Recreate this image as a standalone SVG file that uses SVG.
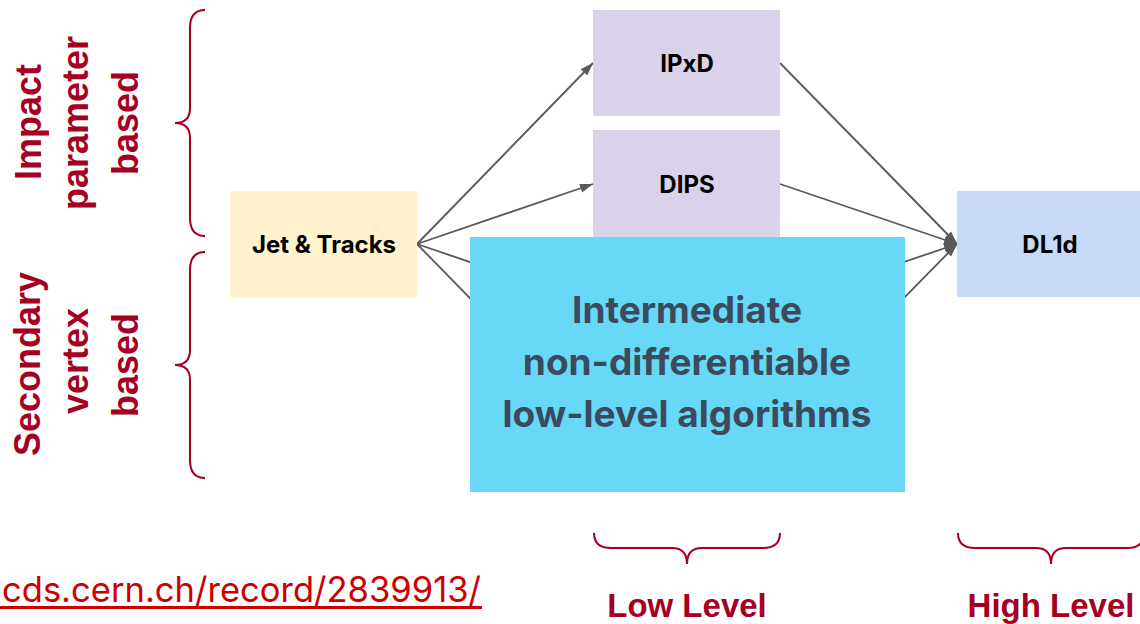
<svg xmlns="http://www.w3.org/2000/svg" width="1140" height="624" viewBox="0 0 1140 624">
  <style>
    .lbl { font-family: "Liberation Sans", Arial, sans-serif; font-weight: bold; fill: #a50021; }
    .box-t { font-family: Inter, "Liberation Sans", sans-serif; font-weight: bold; fill: #000; font-size: 24px; text-anchor: middle; }
    .big-t { font-family: Inter, "Liberation Sans", sans-serif; font-weight: bold; fill: #3b4a5c; font-size: 37px; text-anchor: middle; }
    .brace { fill: none; stroke: #a50021; stroke-width: 2; }
    .conn { stroke: #595959; stroke-width: 1.8; fill: none; }
  </style>
  <defs>
    <marker id="arr" markerUnits="userSpaceOnUse" markerWidth="14" markerHeight="10" refX="13" refY="5" orient="auto">
      <path d="M0,0.5 L13,5 L0,9.5 z" fill="#595959"/>
    </marker>
  </defs>
  <rect width="1140" height="624" fill="#ffffff"/>

  <g id="connectors">
    <line class="conn" x1="417" y1="244" x2="593" y2="63" marker-end="url(#arr)"/>
    <line class="conn" x1="417" y1="244" x2="593" y2="184" marker-end="url(#arr)"/>
    <line class="conn" x1="417" y1="244" x2="593" y2="304"/>
    <line class="conn" x1="417" y1="244" x2="593" y2="424"/>
    <line class="conn" x1="780" y1="63" x2="957" y2="244" marker-end="url(#arr)"/>
    <line class="conn" x1="780" y1="184" x2="957" y2="244" marker-end="url(#arr)"/>
    <line class="conn" x1="780" y1="304" x2="957" y2="244" marker-end="url(#arr)"/>
    <line class="conn" x1="780" y1="424" x2="957" y2="244" marker-end="url(#arr)"/>
  </g>

  <g id="jet-tracks">
    <rect x="230" y="191" width="187" height="106" fill="#fff2cc"/>
    <text class="box-t" x="324" y="253">Jet &amp; Tracks</text>
  </g>
  <g id="ipxd">
    <rect x="593" y="10" width="187" height="106" fill="#d9d2e9"/>
    <text class="box-t" x="687" y="72">IPxD</text>
  </g>
  <g id="dips">
    <rect x="593" y="130" width="187" height="107" fill="#d9d2e9"/>
    <text class="box-t" x="687" y="193">DIPS</text>
  </g>
  <g id="dl1d">
    <rect x="957" y="191" width="183" height="106" fill="#c9daf8"/>
    <text class="box-t" x="1050" y="253">DL1d</text>
  </g>
  <g id="intermediate">
    <rect x="470" y="237" width="435" height="255" fill="#67d8f5"/>
    <text class="big-t" x="687" y="323">Intermediate</text>
    <text class="big-t" x="687" y="375">non-differentiable</text>
    <text class="big-t" x="687" y="427">low-level algorithms</text>
  </g>

  <g id="impact-label">
    <path class="brace" d="M205,10 Q190,10 190,28 V108 Q190,123 175,123 Q190,123 190,138 V218 Q190,236 205,236"/>
    <text class="lbl" font-size="36" text-anchor="middle" transform="translate(41,122) rotate(-90)">Impact</text>
    <text class="lbl" font-size="36" text-anchor="middle" transform="translate(88,123) rotate(-90)">parameter</text>
    <text class="lbl" font-size="36" text-anchor="middle" transform="translate(138,123) rotate(-90)">based</text>
  </g>
  <g id="secondary-label">
    <path class="brace" d="M205,252 Q190,252 190,270 V350 Q190,365 175,365 Q190,365 190,380 V460 Q190,478 205,478"/>
    <text class="lbl" font-size="36" text-anchor="middle" transform="translate(40,364) rotate(-90)">Secondary</text>
    <text class="lbl" font-size="36" text-anchor="middle" transform="translate(88,361) rotate(-90)">vertex</text>
    <text class="lbl" font-size="36" text-anchor="middle" transform="translate(138,365) rotate(-90)">based</text>
  </g>

  <g id="low-level">
    <path class="brace" d="M594,533 Q594,548 611,548 H672 Q687,548 687,564 Q687,548 702,548 H763 Q780,548 780,533"/>
    <text class="lbl" font-size="33" text-anchor="middle" x="687" y="617">Low Level</text>
  </g>
  <g id="high-level">
    <path class="brace" d="M958,533 Q958,548 975,548 H1036 Q1051,548 1051,564 Q1051,548 1066,548 H1127 Q1144,548 1144,533"/>
    <text class="lbl" font-size="33" text-anchor="middle" x="1051" y="617">High Level</text>
  </g>

  <g id="link">
    <text x="2" y="602" textLength="479" lengthAdjust="spacingAndGlyphs" font-family="Inter, 'Liberation Sans', sans-serif" font-size="35" fill="#cc0000">cds.cern.ch/record/2839913/</text>
    <rect x="0" y="606" width="482" height="3" fill="#cc0000"/>
  </g>
</svg>
